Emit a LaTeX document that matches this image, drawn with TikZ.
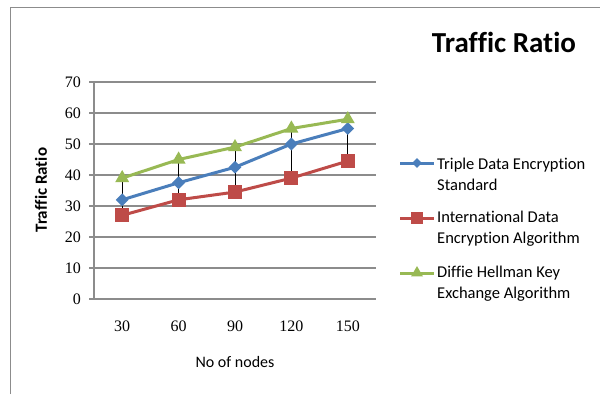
\documentclass[tikz,border=0pt]{standalone}
\usepackage{fontspec}
\setmainfont[Ligatures=NoCommon]{Carlito}
\newfontfamily\numfont{Liberation Serif}
\usetikzlibrary{shapes.geometric}
\definecolor{sblue}{HTML}{4A7EBB}
\definecolor{sred}{HTML}{BE4B48}
\definecolor{sgreen}{HTML}{98B954}
\definecolor{gridc}{HTML}{8C8C8C}
\tikzset{
  gridln/.style={draw=gridc, line width=1.3pt},
  serline/.style={line width=3pt, line join=round},
  hiloline/.style={draw=black, line width=0.9pt},
  dmark/.style={diamond, fill=sblue, inner sep=0pt, minimum width=13pt, minimum height=13pt},
  smark/.style={rectangle, fill=sred, inner sep=0pt, minimum width=14pt, minimum height=14pt},
  tmark/.style={isosceles triangle, isosceles triangle apex angle=60, shape border rotate=90, fill=sgreen, inner sep=0pt, minimum width=14pt, minimum height=12pt},
  ticklab/.style={font=\numfont\fontsize{16}{16}\selectfont, inner sep=0pt},
  legtext/.style={font=\fontsize{16.5}{21}\selectfont, align=left, anchor=west, inner sep=0pt},
}
\begin{document}
\begin{tikzpicture}[x=1pt,y=-1pt]
\useasboundingbox (0,0) rectangle (600,394);
\fill[white] (0,0) rectangle (600,394);
% outer frame
\draw[draw=gridc, line width=1pt] (10.5,394) -- (10.5,7.5) -- (600,7.5);
% title
\node[font=\bfseries\fontsize{29}{29}\selectfont, inner sep=0pt] (title) at (504,42) {Traffic Ratio};
% axis titles
\node[font=\bfseries\fontsize{17}{17}\selectfont, rotate=90, inner sep=0pt] (ytitle) at (41,190) {Traffic Ratio};
\node[font=\fontsize{16}{16}\selectfont, inner sep=0pt] (xtitle) at (235,362) {No of nodes};
% grid and axes
\foreach \v in {0,10,...,70} {
  \pgfmathsetmacro\yy{299-3.1*\v}
  \draw[gridln] (89,\yy) -- (376,\yy);
  \node[ticklab, anchor=east] (yl\v) at (81,\yy) {\v};
}
\draw[gridln] (94,82) -- (94,299);
\foreach \c/\lab [count=\i from 0] in {122.2/30,178.6/60,235/90,291.4/120,347.8/150} {
  \node[ticklab] (xl\i) at (\c,326) {\lab};
}
% data
\begin{scope}[shift={(94,299)}, x=56.4pt, y=3.1pt]
  \foreach \v [count=\i] in {32,37.5,42.5,50,55} \coordinate (b\i) at (\i-0.5,\v);
  \foreach \v [count=\i] in {27,32,34.5,39,44.5} \coordinate (r\i) at (\i-0.5,\v);
  \foreach \v [count=\i] in {39,45,49,55,58} \coordinate (g\i) at (\i-0.5,\v);
\end{scope}
\draw[serline, draw=sgreen] (g1) -- (g2) -- (g3) -- (g4) -- (g5);
\draw[serline, draw=sblue] (b1) -- (b2) -- (b3) -- (b4) -- (b5);
\draw[serline, draw=sred] (r1) -- (r2) -- (r3) -- (r4) -- (r5);
\foreach \i in {1,...,5} \draw[hiloline] (g\i) -- (r\i);
\foreach \i in {1,...,5} {
  \node[dmark] (bm\i) at (b\i) {};
  \node[smark] (rm\i) at (r\i) {};
  \node[tmark, anchor=center] (gm\i) at (g\i) {};
}
% legend
\coordinate (lb1) at (400,163); \coordinate (lb2) at (434,163);
\coordinate (lr1) at (400,218); \coordinate (lr2) at (434,218);
\coordinate (lg1) at (400,273); \coordinate (lg2) at (434,273);
\draw[serline, draw=sblue] (lb1) -- (lb2);
\draw[serline, draw=sred] (lr1) -- (lr2);
\draw[serline, draw=sgreen] (lg1) -- (lg2);
\node[dmark, minimum width=10pt, minimum height=10pt] (lbm) at (417,163) {};
\node[smark, minimum width=12pt, minimum height=12pt] (lrm) at (417,218) {};
\node[tmark, minimum width=12pt, minimum height=10pt] (lgm) at (417,273) {};
\node[legtext] (lt1) at (437,174) {Triple Data Encryption\\Standard};
\node[legtext] (lt2) at (437,229) {International Data\\Encryption Algorithm};
\node[legtext] (lt3) at (437,284) {Diffie Hellman Key\\Exchange Algorithm};
\end{tikzpicture}
\end{document}
